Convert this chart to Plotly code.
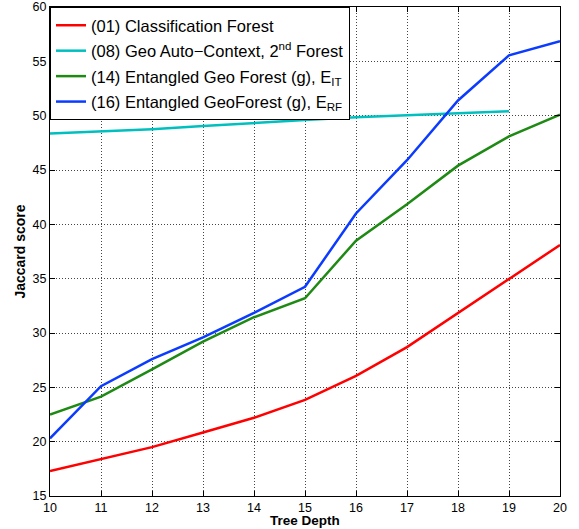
import plotly.graph_objects as go

depth = [10, 11, 12, 13, 14, 15, 16, 17, 18, 19, 20]
cls_forest = [17.3, 18.4, 19.5, 20.85, 22.2, 23.85, 26.05, 28.7, 31.85, 34.95, 38.1]
geo_autoctx = [48.35, 48.55, 48.75, 49.05, 49.35, 49.6, 49.85, 50.05, 50.2, 50.4]
ent_geo_it = [22.5, 24.15, 26.65, 29.2, 31.45, 33.2, 38.5, 41.85, 45.4, 48.1, 50.1]
ent_geo_rf = [20.3, 25.1, 27.6, 29.6, 31.85, 34.25, 41.0, 45.9, 51.4, 55.55, 56.85]

names = [
    "(01) Classification Forest",
    "(08) Geo Auto\u2212Context, 2<sup>nd</sup> Forest",
    "(14) Entangled Geo Forest (g), E<sub>IT</sub>",
    "(16) Entangled GeoForest (g), E<sub>RF</sub>",
]
colors = ["#FF0000", "#00BFBF", "#1E8A14", "#0B3BFF"]
series = [cls_forest, geo_autoctx, ent_geo_it, ent_geo_rf]

fig = go.Figure()
for i, (n, c, s) in enumerate(zip(names, colors, series)):
    fig.add_trace(go.Scatter(x=depth[:len(s)], y=s, mode="lines", name=n,
                             legendgroup=f"g{i}",
                             line=dict(color=c, width=2.5)))

axis_common = dict(
    showline=True, linecolor="black", linewidth=1, mirror="ticks",
    ticks="inside", ticklen=5, tickcolor="black",
    showgrid=True, gridcolor="#444444", griddash="1px,2px", gridwidth=1,
    zeroline=False, tickfont=dict(size=12.5, color="black"), automargin=False,
    ticklabeloverflow="allow",
)
fig.update_xaxes(range=[10, 20], dtick=1, **axis_common)
fig.update_yaxes(range=[15, 60], dtick=5,
                 title=dict(text="<b>Jaccard score</b>", font=dict(size=14, color="black"), standoff=3),
                 **axis_common)

fig.add_annotation(text="<b>Tree Depth</b>", xref="paper", yref="paper",
                   x=0.5, y=-0.0665, xanchor="center", yanchor="bottom",
                   showarrow=False, borderpad=0, font=dict(size=13.5, color="black"))

fig.update_layout(
    width=579, height=529,
    margin=dict(l=50, r=19, t=7, b=33),
    paper_bgcolor="white", plot_bgcolor="white",
    font=dict(family="Liberation Sans, Arial, sans-serif", color="black"),
    legend=dict(x=0, y=1, xanchor="left", yanchor="top",
                bgcolor="white", bordercolor="black", borderwidth=1,
                font=dict(size=16.5, color="black"), tracegroupgap=1,
                itemwidth=30),
)
fig.write_html("out.html", config={"displayModeBar": False},
               post_script="document.body.style.margin='0';")
